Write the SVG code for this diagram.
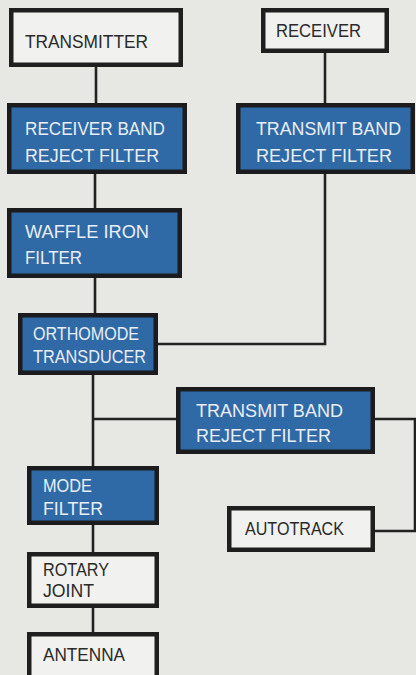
<svg xmlns="http://www.w3.org/2000/svg" width="416" height="675" viewBox="0 0 416 675">
<style>
.bg{fill:#e7e7e4}
.w{fill:#f1f1ef;stroke:#1f1f1f;stroke-width:4.5}
.b{fill:#2f69a6;stroke:#1c1c1e;stroke-width:4.5}
text{font-family:"Liberation Sans",Arial,sans-serif;font-size:19px}
.tw{fill:#2a2a2a}
.tb{fill:#e9eef4}
.c{fill:none;stroke:#222;stroke-width:2.6}
</style>
<rect class="bg" x="0" y="0" width="416" height="675"/>
<g id="connectors">
<path class="c" d="M96,67V103"/>
<path class="c" d="M325,53V103"/>
<path class="c" d="M95,174V208"/>
<path class="c" d="M95,278V313"/>
<path class="c" d="M158,344H325V174"/>
<path class="c" d="M93,375V466"/>
<path class="c" d="M93,419H176"/>
<path class="c" d="M375,419H415V531H375"/>
<path class="c" d="M93,525V552"/>
<path class="c" d="M93,608V632"/>
</g>
<g id="transmitter">
<rect class="w" x="11.25" y="10.25" width="169.5" height="54.5"/>
<text class="tw" x="25" y="48" textLength="123" lengthAdjust="spacingAndGlyphs">TRANSMITTER</text>
</g>
<g id="receiver">
<rect class="w" x="263.25" y="10.25" width="123.5" height="40.5"/>
<text class="tw" x="276" y="37" textLength="85" lengthAdjust="spacingAndGlyphs">RECEIVER</text>
</g>
<g id="rx-band-reject">
<rect class="b" x="9.25" y="105.25" width="175.5" height="66.5"/>
<text class="tb" x="25" y="135" textLength="140" lengthAdjust="spacingAndGlyphs">RECEIVER BAND</text>
<text class="tb" x="25" y="162" textLength="134" lengthAdjust="spacingAndGlyphs">REJECT FILTER</text>
</g>
<g id="tx-band-reject-1">
<rect class="b" x="238.25" y="105.25" width="174.5" height="66.5"/>
<text class="tb" x="256" y="135" textLength="145" lengthAdjust="spacingAndGlyphs">TRANSMIT BAND</text>
<text class="tb" x="256" y="162" textLength="136" lengthAdjust="spacingAndGlyphs">REJECT FILTER</text>
</g>
<g id="waffle-iron">
<rect class="b" x="9.25" y="210.25" width="170.5" height="65.5"/>
<text class="tb" x="25" y="238" textLength="124" lengthAdjust="spacingAndGlyphs">WAFFLE IRON</text>
<text class="tb" x="25" y="264" textLength="57" lengthAdjust="spacingAndGlyphs">FILTER</text>
</g>
<g id="orthomode">
<rect class="b" x="20.25" y="315.25" width="135.5" height="57.5"/>
<text class="tb" x="33" y="340" textLength="106" lengthAdjust="spacingAndGlyphs">ORTHOMODE</text>
<text class="tb" x="33" y="363" textLength="113" lengthAdjust="spacingAndGlyphs">TRANSDUCER</text>
</g>
<g id="tx-band-reject-2">
<rect class="b" x="178.25" y="389.25" width="194.5" height="62.5"/>
<text class="tb" x="196" y="417" textLength="147" lengthAdjust="spacingAndGlyphs">TRANSMIT BAND</text>
<text class="tb" x="196" y="442" textLength="135" lengthAdjust="spacingAndGlyphs">REJECT FILTER</text>
</g>
<g id="mode-filter">
<rect class="b" x="29.25" y="468.25" width="127.5" height="54.5"/>
<text class="tb" x="43" y="492" textLength="49" lengthAdjust="spacingAndGlyphs">MODE</text>
<text class="tb" x="43" y="515" textLength="60" lengthAdjust="spacingAndGlyphs">FILTER</text>
</g>
<g id="autotrack">
<rect class="w" x="229.25" y="508.25" width="143.5" height="41.5"/>
<text class="tw" x="245" y="535" textLength="99" lengthAdjust="spacingAndGlyphs">AUTOTRACK</text>
</g>
<g id="rotary-joint">
<rect class="w" x="29.25" y="554.25" width="127.5" height="51.5"/>
<text class="tw" x="43" y="576" textLength="66" lengthAdjust="spacingAndGlyphs">ROTARY</text>
<text class="tw" x="43" y="597" textLength="51" lengthAdjust="spacingAndGlyphs">JOINT</text>
</g>
<g id="antenna">
<rect class="w" x="29.25" y="634.25" width="127.5" height="50"/>
<text class="tw" x="43" y="661" textLength="82" lengthAdjust="spacingAndGlyphs">ANTENNA</text>
</g>
</svg>
